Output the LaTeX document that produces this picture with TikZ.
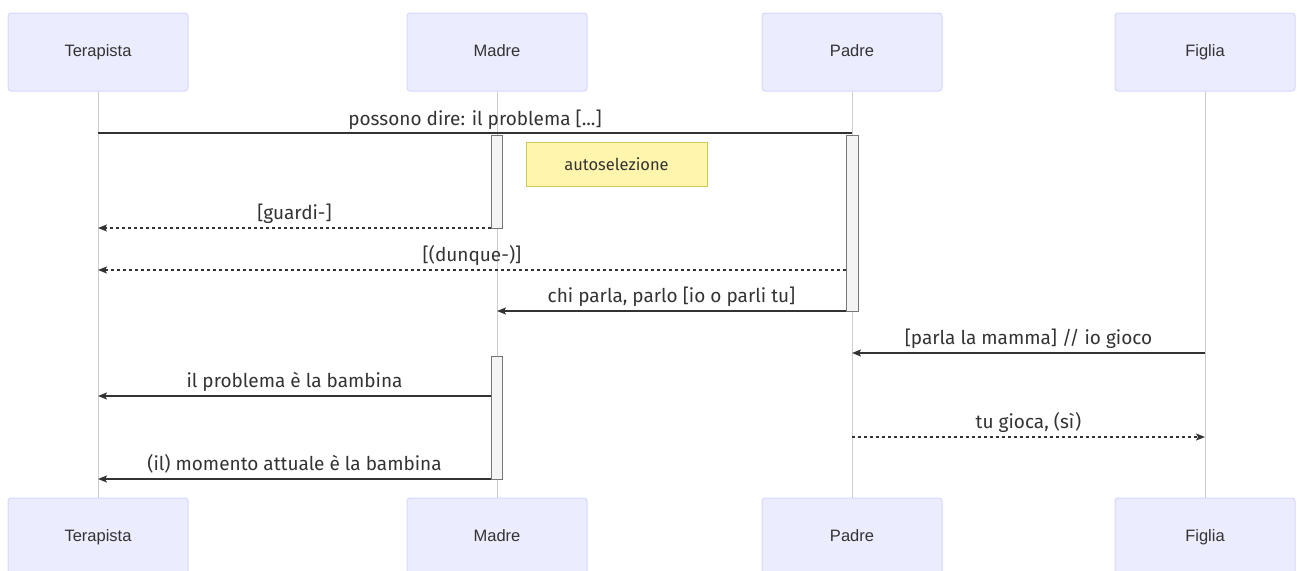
\documentclass[tikz,border=0pt]{standalone}
\usepackage{fontspec}
\setmainfont{Liberation Sans}
\newfontfamily\msgfont{Fira Sans}
\usetikzlibrary{arrows.meta}
\definecolor{actfill}{HTML}{ECECFF}
\definecolor{actdraw}{HTML}{D6D6FF}
\definecolor{txt}{HTML}{333333}
\definecolor{life}{HTML}{CCCCCC}
\definecolor{notefill}{HTML}{FFF5AD}
\definecolor{notedraw}{HTML}{CCCC55}
\definecolor{actvfill}{HTML}{F4F4F4}
\definecolor{actvdraw}{HTML}{777777}
\tikzset{
  x=1pt, y=-1pt,
  actor/.style={draw=actdraw, fill=actfill, line width=1pt, rounded corners=3pt,
    minimum width=180pt, minimum height=78pt, inner sep=0pt,
    text height=11.5pt, text depth=2.5pt,
    font=\fontsize{16.5}{19}\selectfont, text=txt},
  lifeln/.style={draw=life, line width=1pt},
  activ/.style={draw=actvdraw, fill=actvfill, line width=1pt},
  msg/.style={draw=txt, line width=1.5pt},
  reply/.style={draw=txt, line width=1.5pt, dash pattern=on 3pt off 3pt},
  tip/.style={-{Stealth[length=9pt,width=7pt,inset=2pt]}},
  lbl/.style={font=\msgfont\fontsize{19}{21}\selectfont, text=txt, inner sep=0pt, anchor=base},
  notebox/.style={draw=notedraw, fill=notefill, line width=1pt, minimum width=181pt,
    minimum height=44pt, inner sep=0pt, font=\msgfont\fontsize{16.5}{18}\selectfont, text=txt}
}
\begin{document}
\begin{tikzpicture}
\useasboundingbox (0,0) rectangle (1297,570);
\clip (0,0) rectangle (1297,570);
% lifelines
\foreach \n/\x in {T/98, M/497, P/852, F/1205}{
  \coordinate (\n top) at (\x,91);
  \coordinate (\n bot) at (\x,498);
  \draw[lifeln] (\n top) -- (\n bot);
}
% actors
\node[actor] (Ttop) at (98,52) {Terapista};
\node[actor] (Mtop) at (497,52) {Madre};
\node[actor] (Ptop) at (852,52) {Padre};
\node[actor] (Ftop) at (1205,52) {Figlia};
\node[actor] (Tbot) at (98,537) {Terapista};
\node[actor] (Mbot) at (497,537) {Madre};
\node[actor] (Pbot) at (852,537) {Padre};
\node[actor] (Fbot) at (1205,537) {Figlia};
% activations
\draw[activ] (491,135) rectangle (502,228);
\draw[activ] (846,135) rectangle (858,311);
\draw[activ] (491,356) rectangle (502,479);
% note
\node[notebox] (note) at (616.5,164) {autoselezione};
% message coordinates
\coordinate (m1s) at (98,133);   \coordinate (m1e) at (852,133);
\coordinate (m2s) at (491,228);  \coordinate (m2e) at (98,228);
\coordinate (m3s) at (846,270);  \coordinate (m3e) at (98,270);
\coordinate (m4s) at (846,311);  \coordinate (m4e) at (497,311);
\coordinate (m5s) at (1205,353); \coordinate (m5e) at (852,353);
\coordinate (m6s) at (491,396);  \coordinate (m6e) at (98,396);
\coordinate (m7s) at (852,437);  \coordinate (m7e) at (1205,437);
\coordinate (m8s) at (491,479);  \coordinate (m8e) at (98,479);
% messages
\draw[msg] (m1s) -- (m1e);
\node[lbl] (l1) at (475,125) {possono dire: il problema [...]};
\draw[reply,tip] (m2s) -- (m2e);
\node[lbl] (l2) at (294.5,219) {[guardi-]};
\draw[reply,tip] (m3s) -- (m3e);
\node[lbl] (l3) at (472,261) {[(dunque-)]};
\draw[msg,tip] (m4s) -- (m4e);
\node[lbl] (l4) at (671.5,302) {chi parla, parlo [io o parli tu]};
\draw[msg,tip] (m5s) -- (m5e);
\node[lbl] (l5) at (1028.5,344) {[parla la mamma] // io gioco};
\draw[msg,tip] (m6s) -- (m6e);
\node[lbl] (l6) at (294.5,387) {il problema è la bambina};
\draw[reply,tip] (m7s) -- (m7e);
\node[lbl] (l7) at (1028.5,428) {tu gioca, (sì)};
\draw[msg,tip] (m8s) -- (m8e);
\node[lbl] (l8) at (294.5,470) {(il) momento attuale è la bambina};
\end{tikzpicture}
\end{document}
